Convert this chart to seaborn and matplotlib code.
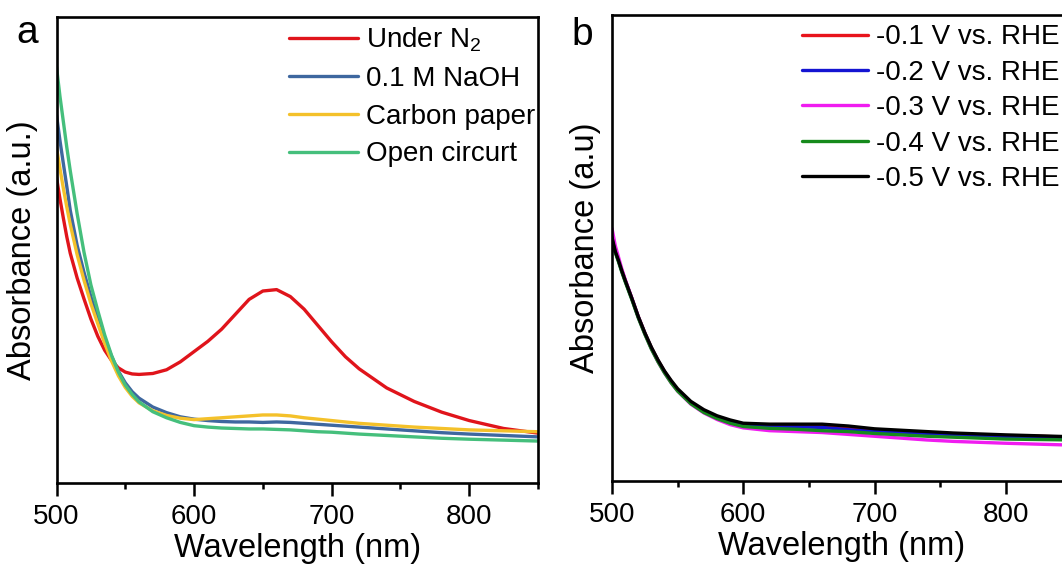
import matplotlib
matplotlib.use("Agg")
import matplotlib.pyplot as plt
from matplotlib.ticker import MultipleLocator
import seaborn as sns
import pandas as pd

# ============================================
# Data (arbitrary absorbance units)
# ============================================

WL_A = [500, 502.5, 505, 507.5, 510, 515, 520, 525, 530, 535, 540, 545, 550, 555,
        560, 570, 580, 590, 600, 610, 620, 630, 640, 650, 660, 670, 680, 690,
        700, 710, 720, 740, 760, 780, 800, 825, 850]

under_n2 = [0.656, 0.61, 0.568, 0.528, 0.493, 0.44, 0.395, 0.352, 0.315, 0.285,
            0.263, 0.247, 0.238, 0.234, 0.233, 0.235, 0.243, 0.26, 0.282, 0.304,
            0.33, 0.362, 0.394, 0.412, 0.415, 0.4, 0.373, 0.338, 0.303, 0.271,
            0.245, 0.204, 0.175, 0.152, 0.134, 0.117, 0.107]
naoh = [0.79, 0.735, 0.685, 0.636, 0.585, 0.51, 0.452, 0.4, 0.352, 0.31, 0.272,
        0.24, 0.215, 0.196, 0.182, 0.163, 0.151, 0.142, 0.137, 0.134, 0.132,
        0.131, 0.131, 0.13, 0.131, 0.13, 0.128, 0.126, 0.124, 0.122, 0.12,
        0.116, 0.112, 0.108, 0.105, 0.102, 0.099]
carbon_paper = [0.72, 0.675, 0.632, 0.592, 0.555, 0.49, 0.435, 0.385, 0.342, 0.30,
                0.262, 0.23, 0.205, 0.186, 0.172, 0.155, 0.145, 0.139, 0.136,
                0.138, 0.14, 0.142, 0.144, 0.146, 0.146, 0.144, 0.14, 0.137,
                0.134, 0.131, 0.128, 0.124, 0.12, 0.117, 0.114, 0.112, 0.11]
open_circuit = [0.893, 0.83, 0.775, 0.72, 0.67, 0.578, 0.495, 0.425, 0.37, 0.318,
                0.274, 0.238, 0.21, 0.19, 0.174, 0.153, 0.14, 0.13, 0.123, 0.12,
                0.118, 0.117, 0.116, 0.116, 0.115, 0.114, 0.112, 0.11, 0.109,
                0.107, 0.105, 0.102, 0.099, 0.096, 0.094, 0.092, 0.09]

WL_B = [500, 502.5, 505, 507.5, 510, 515, 520, 525, 530, 535, 540, 545, 550, 560,
        570, 580, 590, 600, 620, 640, 660, 680, 700, 720, 740, 760, 780, 800,
        825, 850]

v_01 = [0.525, 0.494, 0.474, 0.452, 0.431, 0.393, 0.353, 0.318, 0.286, 0.259,
        0.235, 0.214, 0.196, 0.169, 0.15, 0.137, 0.128, 0.121, 0.121, 0.121,
        0.12, 0.114, 0.108, 0.106, 0.104, 0.101, 0.099, 0.097, 0.096, 0.094]
v_02 = [0.522, 0.492, 0.472, 0.45, 0.43, 0.392, 0.352, 0.317, 0.285, 0.258,
        0.234, 0.213, 0.195, 0.167, 0.149, 0.136, 0.126, 0.118, 0.116, 0.116,
        0.115, 0.11, 0.106, 0.103, 0.1, 0.098, 0.096, 0.094, 0.093, 0.091]
v_03 = [0.542, 0.505, 0.48, 0.455, 0.433, 0.393, 0.352, 0.316, 0.284, 0.256,
        0.232, 0.211, 0.193, 0.165, 0.146, 0.132, 0.121, 0.114, 0.108, 0.106,
        0.104, 0.1, 0.096, 0.092, 0.088, 0.085, 0.083, 0.081, 0.079, 0.077]
v_04 = [0.52, 0.49, 0.47, 0.448, 0.428, 0.39, 0.35, 0.315, 0.283, 0.256,
        0.232, 0.211, 0.193, 0.166, 0.147, 0.134, 0.124, 0.117, 0.113, 0.111,
        0.108, 0.106, 0.102, 0.099, 0.096, 0.094, 0.092, 0.09, 0.089, 0.088]
v_05 = [0.523, 0.493, 0.473, 0.451, 0.431, 0.393, 0.353, 0.318, 0.287, 0.26,
        0.236, 0.216, 0.198, 0.171, 0.153, 0.14, 0.131, 0.124, 0.122, 0.122,
        0.122, 0.118, 0.112, 0.109, 0.106, 0.103, 0.101, 0.099, 0.097, 0.095]

LABELS_A = ['Under $\\mathregular{N_2}$', '0.1 M NaOH', 'Carbon paper', 'Open circurt']
COLORS_A = ['#e0141b', '#3e679f', '#f4c12a', '#45bf7c']
LABELS_B = ['-0.1 V vs. RHE', '-0.2 V vs. RHE', '-0.3 V vs. RHE',
            '-0.4 V vs. RHE', '-0.5 V vs. RHE']
COLORS_B = ['#e8141c', '#1414d2', '#f01cf0', '#168a1c', '#000000']

# ============================================
# Build long tables
# ============================================

df_a = pd.concat([
    pd.DataFrame({'wl': WL_A, 'abs': vals, 'series': lab})
    for lab, vals in zip(LABELS_A, [under_n2, naoh, carbon_paper, open_circuit])
])
df_b = pd.concat([
    pd.DataFrame({'wl': WL_B, 'abs': vals, 'series': lab})
    for lab, vals in zip(LABELS_B, [v_01, v_02, v_03, v_04, v_05])
])

sns.set_style("ticks")
plt.rcParams['font.family'] = ['Liberation Sans', 'DejaVu Sans']
plt.rcParams['mathtext.fontset'] = 'custom'
plt.rcParams['mathtext.rm'] = 'Liberation Sans'
plt.rcParams['text.color'] = 'black'
plt.rcParams['axes.labelcolor'] = 'black'
plt.rcParams['xtick.color'] = 'black'

fig = plt.figure(figsize=(10.62, 5.77), dpi=100)
ax_a = fig.add_axes([56.5 / 1062, 1 - 483 / 577, 481.5 / 1062, 466 / 577])
ax_b = fig.add_axes([612 / 1062, 1 - 481 / 577, 459.5 / 1062, 466 / 577])


def style_axis(ax, ylabel, labelpad):
    ax.set_xlim(500, 850)
    ax.set_ylim(0, 1)
    ax.xaxis.set_major_locator(MultipleLocator(100))
    ax.xaxis.set_minor_locator(MultipleLocator(50))
    ax.set_yticks([])
    ax.tick_params(axis='x', which='major', direction='out', length=9, width=1.8,
                   labelsize=20, pad=6, colors='black')
    ax.tick_params(axis='x', which='minor', direction='out', length=4.5, width=1.8)
    for sp in ax.spines.values():
        sp.set_visible(True)
        sp.set_linewidth(1.9)
        sp.set_color('black')
    ax.set_xlabel('Wavelength (nm)', fontsize=23.5, labelpad=2)
    ax.set_ylabel(ylabel, fontsize=23.5, labelpad=labelpad)


sns.lineplot(data=df_a, x='wl', y='abs', hue='series', hue_order=LABELS_A,
             palette=COLORS_A, estimator=None, sort=False, linewidth=2.4, ax=ax_a)
style_axis(ax_a, 'Absorbance (a.u.)', 13)
ax_a.legend(loc='upper right', bbox_to_anchor=(0.995, 0.981), frameon=False,
            fontsize=20, borderaxespad=0, borderpad=0, handlelength=2.5,
            handletextpad=0.29, labelspacing=0.42)

sns.lineplot(data=df_b, x='wl', y='abs', hue='series', hue_order=LABELS_B,
             palette=COLORS_B, estimator=None, sort=False, linewidth=2.4, ax=ax_b)
style_axis(ax_b, 'Absorbance (a.u)', 8)
ax_b.legend(loc='upper left', bbox_to_anchor=(0.413, 0.98), frameon=False,
            fontsize=20, borderaxespad=0, borderpad=0, handlelength=2.4,
            handletextpad=0.29, labelspacing=0.34)

fig.text(16 / 1062, 1 - 43 / 577, 'a', fontsize=28, va='baseline')
fig.text(571 / 1062, 1 - 45 / 577, 'b', fontsize=28, va='baseline')

fig.savefig('out.png', dpi=100)
